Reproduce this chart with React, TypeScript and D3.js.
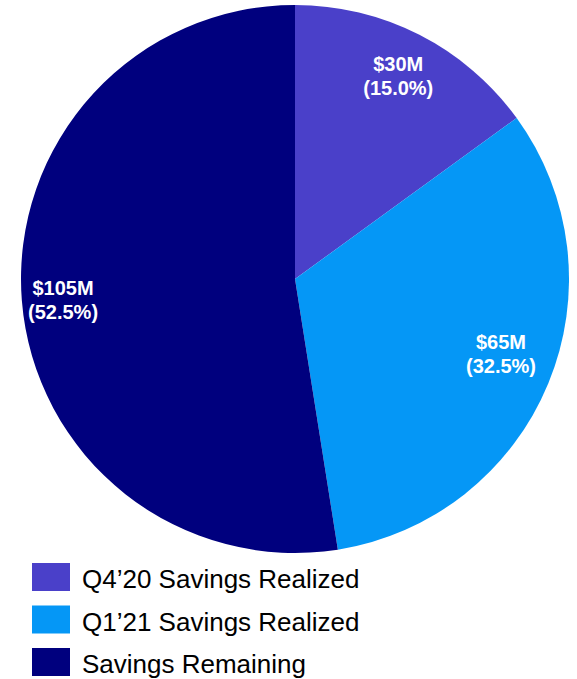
import { useEffect, useRef } from 'react'
import * as d3 from 'd3'

const categories = ['Q4’20 Savings Realized', 'Q1’21 Savings Realized', 'Savings Remaining']
const values = [30, 65, 105]
const percents = ['15.0%', '32.5%', '52.5%']
const colors = ['#4A40C9', '#0597F6', '#00007E']

// label placement per slice: radius fraction and angle nudge (radians)
const labelPlace = [
  { r: 0.83, da: 0 },
  { r: 0.80, da: -0.044 },
  { r: 0.85, da: -0.012 }
]

export default function App() {
  const svgRef = useRef(null)

  const svgWidth = 577
  const svgHeight = 679
  const cx = 295
  const cy = 279
  const radius = 274

  useEffect(() => {
    svgRef.current.innerHTML = ''

    const svg = d3.select(svgRef.current)

    const pie = d3.pie()
      .sort(null)
      .value(d => d)

    const arcs = pie(values)

    const arc = d3.arc()
      .innerRadius(0)
      .outerRadius(radius)

    const labelPos = (d, i) => {
      const p = labelPlace[i]
      const a = (d.startAngle + d.endAngle) / 2 + p.da
      const r = radius * p.r
      return [Math.sin(a) * r, -Math.cos(a) * r]
    }

    const g = svg.append('g')
      .attr('transform', `translate(${cx}, ${cy})`)

    g.selectAll('path')
      .data(arcs)
      .enter().append('path')
        .attr('d', arc)
        .attr('fill', (d, i) => colors[i])

    const labels = g.selectAll('text.label')
      .data(arcs)
      .enter().append('text')
        .classed('label', true)
        .attr('transform', (d, i) => `translate(${labelPos(d, i)})`)
        .attr('text-anchor', 'middle')
        .attr('fill', '#fff')
        .style('font', 'bold 20px "Liberation Sans", Arial, sans-serif')

    labels.append('tspan')
      .attr('x', 0)
      .attr('dy', '-0.25em')
      .text(d => `$${d.data}M`)

    labels.append('tspan')
      .attr('x', 0)
      .attr('dy', '1.2em')
      .text((d, i) => `(${percents[i]})`)

    const legend = svg.append('g')
      .attr('transform', 'translate(32, 563)')

    const rows = legend.selectAll('g')
      .data(categories)
      .enter().append('g')
        .attr('transform', (d, i) => `translate(0, ${i * 42.5})`)

    rows.append('rect')
      .attr('width', 38)
      .attr('height', 28)
      .attr('fill', (d, i) => colors[i])

    rows.append('text')
      .attr('x', 50)
      .attr('y', 25)
      .attr('fill', '#000')
      .style('font', '26px "Liberation Sans", Arial, sans-serif')
      .text(d => d)
  }, [])

  return (
    <svg
      ref={ svgRef }
      width={ svgWidth }
      height={ svgHeight }
      viewBox={ `0 0 ${svgWidth} ${svgHeight}` }
      style={ { position: 'absolute', left: 0, top: 0, display: 'block' } }
    />
  )
}
